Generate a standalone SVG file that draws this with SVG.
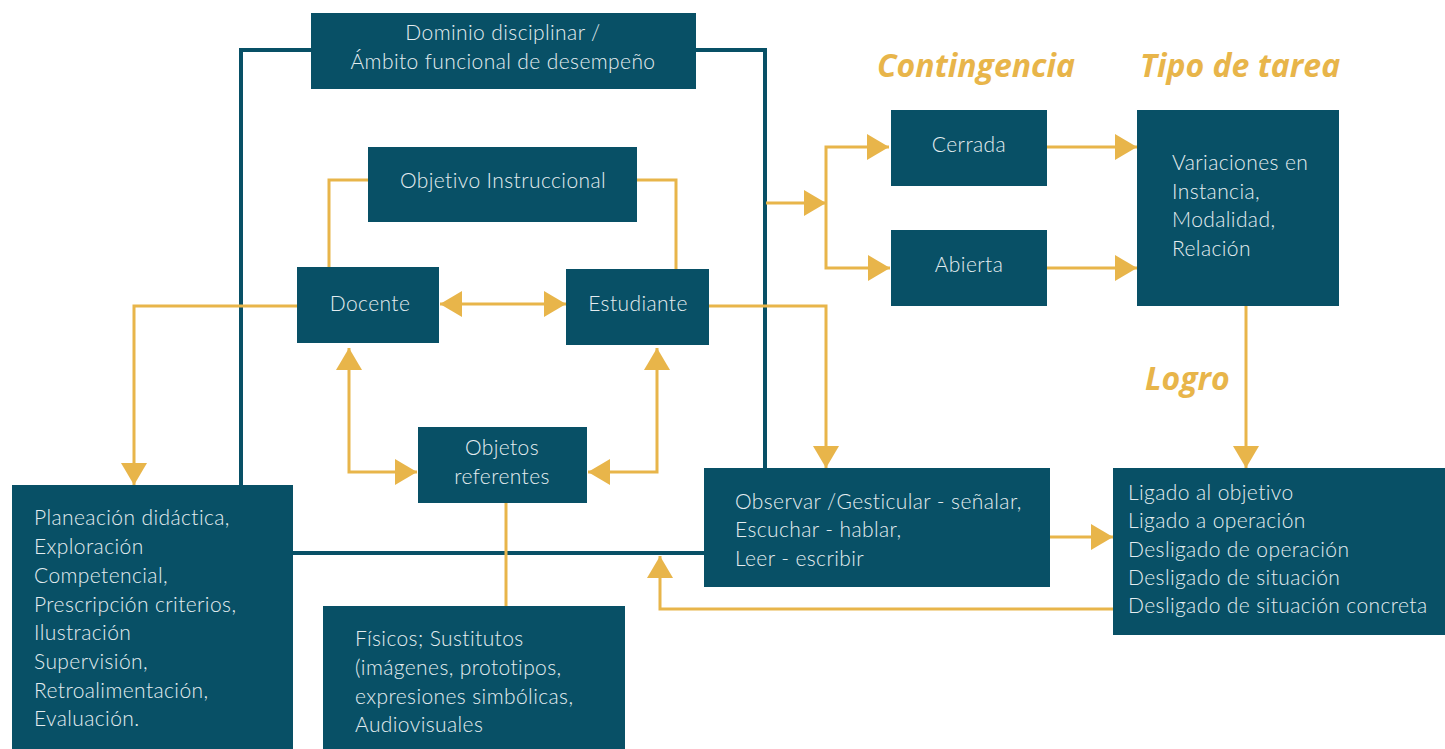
<svg xmlns="http://www.w3.org/2000/svg" width="1445" height="749" viewBox="0 0 1445 749">
  <defs>
    <style>
      .box { fill: #085066; }
      .t { font-family: Lato, "Open Sans", "Liberation Sans", sans-serif; font-size: 21px; font-weight: 300; letter-spacing: 0.4px; fill: #e4edf0; }
      .c { text-anchor: middle; }
      .h { font-family: "Open Sans", "Liberation Sans", sans-serif; font-size: 32px; font-weight: bold; font-style: italic; fill: #e8b54a; }
      .link { fill: none; stroke: #e8b54a; stroke-width: 3; }
      .frame { fill: none; stroke: #085066; stroke-width: 4; }
      .arrow { marker-end: url(#tip); }
      .both { marker-start: url(#tip); marker-end: url(#tip); }
    </style>
    <marker id="tip" viewBox="0 0 22 26" refX="22" refY="13" markerWidth="22" markerHeight="26" markerUnits="userSpaceOnUse" orient="auto-start-reverse">
      <path d="M0,0 L22,13 L0,26 z" fill="#e8b54a"/>
    </marker>
  </defs>

  <rect width="1445" height="749" fill="#ffffff"/>

  <!-- dark frame lines around the instructional core -->
  <g id="frame">
    <path class="frame" d="M311,50 H241 V486"/>
    <path class="frame" d="M695,50 H765 V468"/>
    <path class="frame" d="M293,553 H705"/>
  </g>

  <!-- connectors -->
  <g id="connectors">
    <path class="link" d="M368,180 H329 V268"/>
    <path class="link" d="M637,180 H676 V269"/>
    <path class="link both" d="M440,304 H566"/>
    <path class="link both" d="M349,348 V472 H417"/>
    <path class="link both" d="M657,348 V472 H588"/>
    <path class="link arrow" d="M297,306 H134 V485"/>
    <path class="link arrow" d="M709,306 H826 V468"/>
    <path class="link arrow" d="M766,203 H826"/>
    <path class="link arrow" d="M826,203 V147 H889"/>
    <path class="link arrow" d="M826,203 V268 H890"/>
    <path class="link arrow" d="M1047,147 H1137"/>
    <path class="link arrow" d="M1047,268 H1137"/>
    <path class="link arrow" d="M1246,306 V468"/>
    <path class="link arrow" d="M1050,537 H1113"/>
    <path class="link arrow" d="M1113,609 H660 V556"/>
    <path class="link" d="M506,503 V606"/>
  </g>

  <!-- headings -->
  <text class="h" x="877" y="77">Contingencia</text>
  <text class="h" x="1140" y="77">Tipo de tarea</text>
  <text class="h" x="1145" y="390">Logro</text>

  <g id="dominio">
    <rect class="box" x="311" y="13" width="385" height="76"/>
    <text class="t c" x="503" y="40">Dominio disciplinar /</text>
    <text class="t c" x="503" y="69">Ámbito funcional de desempeño</text>
  </g>

  <g id="objetivo">
    <rect class="box" x="368" y="147" width="269" height="75"/>
    <text class="t c" x="503" y="188">Objetivo Instruccional</text>
  </g>

  <g id="docente">
    <rect class="box" x="297" y="267" width="142" height="76"/>
    <text class="t c" x="370" y="311">Docente</text>
  </g>

  <g id="estudiante">
    <rect class="box" x="566" y="269" width="143" height="76"/>
    <text class="t c" x="638" y="311">Estudiante</text>
  </g>

  <g id="objetos">
    <rect class="box" x="418" y="427" width="169" height="76"/>
    <text class="t c" x="502" y="455">Objetos</text>
    <text class="t c" x="502" y="484">referentes</text>
  </g>

  <g id="planeacion">
    <rect class="box" x="12" y="485" width="281" height="264"/>
    <text class="t" x="34" y="525">Planeación didáctica,</text>
    <text class="t" x="34" y="554">Exploración</text>
    <text class="t" x="34" y="583">Competencial,</text>
    <text class="t" x="34" y="612">Prescripción criterios,</text>
    <text class="t" x="34" y="640">Ilustración</text>
    <text class="t" x="34" y="669">Supervisión,</text>
    <text class="t" x="34" y="698">Retroalimentación,</text>
    <text class="t" x="34" y="726">Evaluación.</text>
  </g>

  <g id="fisicos">
    <rect class="box" x="323" y="606" width="302" height="143"/>
    <text class="t" x="355" y="646">Físicos; Sustitutos</text>
    <text class="t" x="355" y="675">(imágenes, prototipos,</text>
    <text class="t" x="355" y="704">expresiones simbólicas,</text>
    <text class="t" x="355" y="732">Audiovisuales</text>
  </g>

  <g id="observar">
    <rect class="box" x="704" y="468" width="346" height="119"/>
    <text class="t" x="735" y="509">Observar /Gesticular - señalar,</text>
    <text class="t" x="735" y="537">Escuchar - hablar,</text>
    <text class="t" x="735" y="566">Leer - escribir</text>
  </g>

  <g id="cerrada">
    <rect class="box" x="891" y="110" width="156" height="76"/>
    <text class="t c" x="969" y="152">Cerrada</text>
  </g>

  <g id="abierta">
    <rect class="box" x="891" y="230" width="156" height="76"/>
    <text class="t c" x="969" y="272">Abierta</text>
  </g>

  <g id="variaciones">
    <rect class="box" x="1137" y="110" width="202" height="196"/>
    <text class="t" x="1172" y="170">Variaciones en</text>
    <text class="t" x="1172" y="199">Instancia,</text>
    <text class="t" x="1172" y="227">Modalidad,</text>
    <text class="t" x="1172" y="256">Relación</text>
  </g>

  <g id="ligado">
    <rect class="box" x="1113" y="468" width="332" height="167"/>
    <text class="t" x="1128" y="500">Ligado al objetivo</text>
    <text class="t" x="1128" y="528">Ligado a operación</text>
    <text class="t" x="1128" y="557">Desligado de operación</text>
    <text class="t" x="1128" y="585">Desligado de situación</text>
    <text class="t" x="1128" y="613">Desligado de situación concreta</text>
  </g>
</svg>
